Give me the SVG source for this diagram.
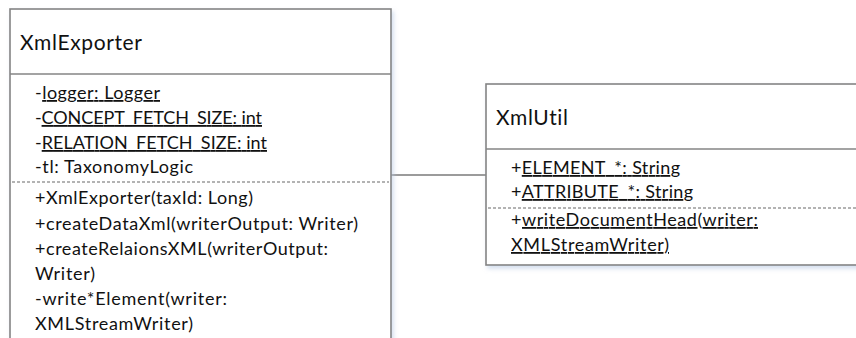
<svg xmlns="http://www.w3.org/2000/svg" width="856" height="338" viewBox="0 0 856 338">
<style>
.box{fill:#ffffff;stroke:#848484;stroke-width:1.6}
.sep{stroke:#848484;stroke-width:1.6;fill:none}
.dash{stroke:#9a9a9a;stroke-width:1.3;stroke-dasharray:3 2;fill:none}
.conn{stroke:#7a7a7a;stroke-width:1.6;fill:none}
text{font-family:Lato,"Liberation Sans",sans-serif;fill:#111111;font-variant-ligatures:none}
.title{font-size:21px}
.t{font-size:18px}
.u{text-decoration:underline}
</style>
<defs>
<filter id="sh" x="-5%" y="-5%" width="115%" height="120%">
<feDropShadow dx="2" dy="3" stdDeviation="2" flood-color="#b9cbe3" flood-opacity="0.6"/>
</filter>
</defs>
<g id="connectors">
<line class="conn" x1="391" y1="175" x2="486" y2="175"/>
</g>
<g id="XmlExporter">
<rect class="box" x="10" y="9" width="381" height="340" filter="url(#sh)"/>
<line class="sep" x1="10" y1="74" x2="391" y2="74"/>
<line class="dash" x1="12" y1="182" x2="389" y2="182"/>
<text class="title" x="20" y="50" textLength="122" lengthAdjust="spacing">XmlExporter</text>
<text class="t" x="35" y="99" textLength="125" lengthAdjust="spacing">-<tspan class="u">logger: Logger</tspan></text>
<text class="t" x="35" y="124" textLength="227" lengthAdjust="spacing">-<tspan class="u">CONCEPT_FETCH_SIZE: int</tspan></text>
<text class="t" x="35" y="149" textLength="232" lengthAdjust="spacing">-<tspan class="u">RELATION_FETCH_SIZE: int</tspan></text>
<text class="t" x="35" y="173" textLength="158" lengthAdjust="spacing">-tl: TaxonomyLogic</text>
<text class="t" x="35" y="204" textLength="218" lengthAdjust="spacing">+XmlExporter(taxId: Long)</text>
<text class="t" x="35" y="230" textLength="323" lengthAdjust="spacing">+createDataXml(writerOutput: Writer)</text>
<text class="t" x="35" y="255" textLength="293" lengthAdjust="spacing">+createRelaionsXML(writerOutput:</text>
<text class="t" x="35" y="280" textLength="60" lengthAdjust="spacing">Writer)</text>
<text class="t" x="35" y="305" textLength="192" lengthAdjust="spacing">-write*Element(writer:</text>
<text class="t" x="35" y="330" textLength="158" lengthAdjust="spacing">XMLStreamWriter)</text>
</g>
<g id="XmlUtil">
<rect class="box" x="486" y="84" width="380" height="181" filter="url(#sh)"/>
<line class="sep" x1="486" y1="149" x2="866" y2="149"/>
<line class="dash" x1="488" y1="208" x2="866" y2="208"/>
<text class="title" x="496" y="125" textLength="72" lengthAdjust="spacing">XmlUtil</text>
<text class="t" x="511" y="174" textLength="169" lengthAdjust="spacing">+<tspan class="u">ELEMENT_*: String</tspan></text>
<text class="t" x="511" y="198" textLength="182" lengthAdjust="spacing">+<tspan class="u">ATTRIBUTE_*: String</tspan></text>
<text class="t" x="511" y="226" textLength="247" lengthAdjust="spacing">+<tspan class="u">writeDocumentHead(writer:</tspan></text>
<text class="t" x="511" y="251" textLength="158" lengthAdjust="spacing"><tspan class="u">XMLStreamWriter)</tspan></text>
</g>
</svg>
